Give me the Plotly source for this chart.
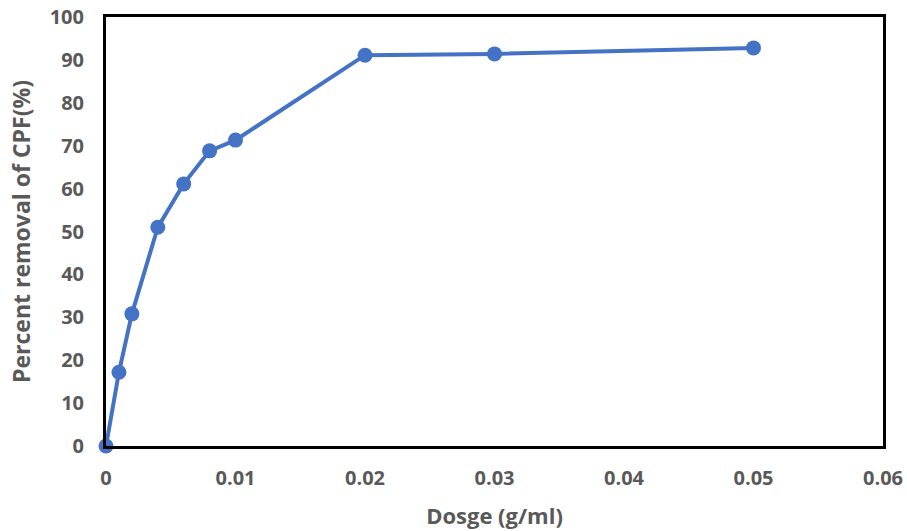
import plotly.graph_objects as go

dosage = [0, 0.001, 0.002, 0.004, 0.006, 0.008, 0.01, 0.02, 0.03, 0.05]
removal = [0, 17.2, 30.8, 51.0, 61.1, 68.8, 71.3, 91.1, 91.4, 92.8]
x_ticks = [0, 0.01, 0.02, 0.03, 0.04, 0.05, 0.06]
x_tick_labels = ["0", "0.01", "0.02", "0.03", "0.04", "0.05", "0.06"]
y_ticks = [0, 10, 20, 30, 40, 50, 60, 70, 80, 90, 100]

fig = go.Figure()
fig.add_trace(go.Scatter(
    x=dosage, y=removal, mode="lines+markers",
    line=dict(color="#4472C4", width=4),
    marker=dict(color="#4472C4", size=15),
    showlegend=False, cliponaxis=False,
))

font_family = "Open Sans"
fig.update_layout(
    width=907, height=531,
    margin=dict(l=106, r=24, t=17, b=85),
    paper_bgcolor="white", plot_bgcolor="white",
    font=dict(family=font_family, color="#595959", size=20),
    xaxis=dict(
        range=[0, 0.06], tickvals=x_ticks, ticktext=x_tick_labels,
        showgrid=False, zeroline=False, showline=True, linecolor="black", linewidth=3,
        mirror=True, ticks="", ticklen=0, automargin=False, ticklabelstandoff=12,
        tickfont=dict(family=font_family, size=20, color="#595959", weight="bold"),
        title=dict(text="<b>Dosge (g/ml)</b>", font=dict(size=22, color="#595959"), standoff=19),
    ),
    yaxis=dict(
        range=[0, 100], tickvals=y_ticks,
        showgrid=False, zeroline=False, showline=True, linecolor="black", linewidth=3,
        mirror=True, ticks="", ticklen=0, automargin=False, ticklabelstandoff=15,
        tickfont=dict(family=font_family, size=20, color="#595959", weight="bold"),
        title=dict(text="<b>Percent removal of CPF(%)</b>", font=dict(size=23, color="#595959"), standoff=13),
    ),
)
fig.write_html(
    "out.html",
    config={"displayModeBar": False},
    post_script="document.body.style.margin='0';document.body.style.overflow='hidden';",
)
